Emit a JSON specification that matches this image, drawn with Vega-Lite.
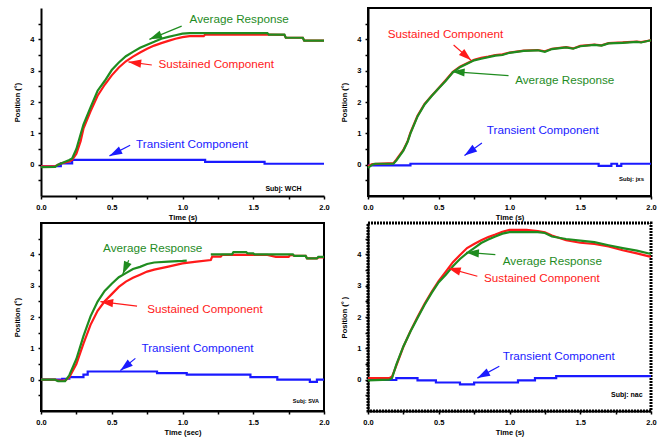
{
"$schema":"https://vega.github.io/schema/vega-lite/v6.json",
"padding":{"left":12,"top":7,"right":0,"bottom":0},
"columns":2,
"spacing":{"row":27,"column":44},
"bounds":"flush",
"datasets":{
"lines":[
{"p":1,"s":"Transient Component","t":0,"v":-0.05},{"p":1,"s":"Transient Component","t":0.14,"v":0.04},{"p":1,"s":"Transient Component","t":0.22,"v":0.15},{"p":1,"s":"Transient Component","t":1.16,"v":0.09},{"p":1,"s":"Transient Component","t":1.58,"v":0.03},{"p":1,"s":"Transient Component","t":2.0,"v":0.03},
{"p":1,"s":"Sustained Component","t":0,"v":-0.05},{"p":1,"s":"Sustained Component","t":0.1,"v":-0.05},{"p":1,"s":"Sustained Component","t":0.12,"v":0.0},{"p":1,"s":"Sustained Component","t":0.15,"v":0.05},{"p":1,"s":"Sustained Component","t":0.2,"v":0.1},{"p":1,"s":"Sustained Component","t":0.22,"v":0.15},{"p":1,"s":"Sustained Component","t":0.25,"v":0.35},{"p":1,"s":"Sustained Component","t":0.28,"v":0.75},{"p":1,"s":"Sustained Component","t":0.3,"v":1.15},{"p":1,"s":"Sustained Component","t":0.35,"v":1.7},{"p":1,"s":"Sustained Component","t":0.4,"v":2.2},{"p":1,"s":"Sustained Component","t":0.45,"v":2.55},{"p":1,"s":"Sustained Component","t":0.5,"v":2.85},{"p":1,"s":"Sustained Component","t":0.55,"v":3.1},{"p":1,"s":"Sustained Component","t":0.6,"v":3.3},{"p":1,"s":"Sustained Component","t":0.65,"v":3.45},{"p":1,"s":"Sustained Component","t":0.7,"v":3.58},{"p":1,"s":"Sustained Component","t":0.75,"v":3.7},{"p":1,"s":"Sustained Component","t":0.8,"v":3.8},{"p":1,"s":"Sustained Component","t":0.85,"v":3.88},{"p":1,"s":"Sustained Component","t":0.9,"v":3.95},{"p":1,"s":"Sustained Component","t":0.95,"v":4.02},{"p":1,"s":"Sustained Component","t":1.0,"v":4.07},{"p":1,"s":"Sustained Component","t":1.05,"v":4.1},{"p":1,"s":"Sustained Component","t":1.15,"v":4.1},{"p":1,"s":"Sustained Component","t":1.16,"v":4.15},{"p":1,"s":"Sustained Component","t":1.6,"v":4.15},{"p":1,"s":"Sustained Component","t":1.72,"v":4.14},{"p":1,"s":"Sustained Component","t":1.73,"v":4.05},{"p":1,"s":"Sustained Component","t":1.85,"v":4.05},{"p":1,"s":"Sustained Component","t":1.86,"v":3.96},{"p":1,"s":"Sustained Component","t":2.0,"v":3.96},
{"p":1,"s":"Average Response","t":0,"v":-0.08},{"p":1,"s":"Average Response","t":0.1,"v":-0.07},{"p":1,"s":"Average Response","t":0.12,"v":0.0},{"p":1,"s":"Average Response","t":0.15,"v":0.05},{"p":1,"s":"Average Response","t":0.2,"v":0.15},{"p":1,"s":"Average Response","t":0.22,"v":0.2},{"p":1,"s":"Average Response","t":0.25,"v":0.5},{"p":1,"s":"Average Response","t":0.28,"v":0.97},{"p":1,"s":"Average Response","t":0.3,"v":1.28},{"p":1,"s":"Average Response","t":0.35,"v":1.83},{"p":1,"s":"Average Response","t":0.4,"v":2.36},{"p":1,"s":"Average Response","t":0.45,"v":2.67},{"p":1,"s":"Average Response","t":0.5,"v":3.02},{"p":1,"s":"Average Response","t":0.55,"v":3.26},{"p":1,"s":"Average Response","t":0.6,"v":3.46},{"p":1,"s":"Average Response","t":0.65,"v":3.6},{"p":1,"s":"Average Response","t":0.7,"v":3.73},{"p":1,"s":"Average Response","t":0.75,"v":3.83},{"p":1,"s":"Average Response","t":0.8,"v":3.92},{"p":1,"s":"Average Response","t":0.85,"v":4.02},{"p":1,"s":"Average Response","t":0.9,"v":4.08},{"p":1,"s":"Average Response","t":0.95,"v":4.13},{"p":1,"s":"Average Response","t":1.0,"v":4.18},{"p":1,"s":"Average Response","t":1.05,"v":4.2},{"p":1,"s":"Average Response","t":1.6,"v":4.2},{"p":1,"s":"Average Response","t":1.61,"v":4.15},{"p":1,"s":"Average Response","t":1.72,"v":4.15},{"p":1,"s":"Average Response","t":1.73,"v":4.05},{"p":1,"s":"Average Response","t":1.85,"v":4.05},{"p":1,"s":"Average Response","t":1.86,"v":3.96},{"p":1,"s":"Average Response","t":2.0,"v":3.96},

{"p":2,"s":"Transient Component","t":0,"v":-0.02},{"p":2,"s":"Transient Component","t":0.3,"v":0.03},{"p":2,"s":"Transient Component","t":1.63,"v":-0.04},{"p":2,"s":"Transient Component","t":1.72,"v":0.03},{"p":2,"s":"Transient Component","t":1.76,"v":-0.04},{"p":2,"s":"Transient Component","t":1.79,"v":0.03},{"p":2,"s":"Transient Component","t":2.0,"v":0.03},
{"p":2,"s":"Sustained Component","t":0,"v":-0.05},{"p":2,"s":"Sustained Component","t":0.03,"v":0.02},{"p":2,"s":"Sustained Component","t":0.18,"v":0.05},{"p":2,"s":"Sustained Component","t":0.2,"v":0.16},{"p":2,"s":"Sustained Component","t":0.25,"v":0.47},{"p":2,"s":"Sustained Component","t":0.28,"v":0.75},{"p":2,"s":"Sustained Component","t":0.3,"v":1.02},{"p":2,"s":"Sustained Component","t":0.35,"v":1.56},{"p":2,"s":"Sustained Component","t":0.4,"v":1.94},{"p":2,"s":"Sustained Component","t":0.45,"v":2.2},{"p":2,"s":"Sustained Component","t":0.5,"v":2.45},{"p":2,"s":"Sustained Component","t":0.55,"v":2.7},{"p":2,"s":"Sustained Component","t":0.6,"v":2.96},{"p":2,"s":"Sustained Component","t":0.65,"v":3.13},{"p":2,"s":"Sustained Component","t":0.7,"v":3.24},{"p":2,"s":"Sustained Component","t":0.75,"v":3.35},{"p":2,"s":"Sustained Component","t":0.8,"v":3.41},{"p":2,"s":"Sustained Component","t":0.85,"v":3.45},{"p":2,"s":"Sustained Component","t":0.9,"v":3.5},{"p":2,"s":"Sustained Component","t":0.95,"v":3.52},{"p":2,"s":"Sustained Component","t":1.0,"v":3.58},{"p":2,"s":"Sustained Component","t":1.05,"v":3.61},{"p":2,"s":"Sustained Component","t":1.1,"v":3.64},{"p":2,"s":"Sustained Component","t":1.2,"v":3.66},{"p":2,"s":"Sustained Component","t":1.25,"v":3.62},{"p":2,"s":"Sustained Component","t":1.3,"v":3.7},{"p":2,"s":"Sustained Component","t":1.4,"v":3.75},{"p":2,"s":"Sustained Component","t":1.45,"v":3.71},{"p":2,"s":"Sustained Component","t":1.5,"v":3.79},{"p":2,"s":"Sustained Component","t":1.6,"v":3.83},{"p":2,"s":"Sustained Component","t":1.65,"v":3.81},{"p":2,"s":"Sustained Component","t":1.7,"v":3.88},{"p":2,"s":"Sustained Component","t":1.8,"v":3.9},{"p":2,"s":"Sustained Component","t":1.9,"v":3.93},{"p":2,"s":"Sustained Component","t":1.93,"v":3.91},{"p":2,"s":"Sustained Component","t":2.0,"v":3.97},
{"p":2,"s":"Average Response","t":0,"v":-0.1},{"p":2,"s":"Average Response","t":0.03,"v":0.0},{"p":2,"s":"Average Response","t":0.05,"v":0.03},{"p":2,"s":"Average Response","t":0.18,"v":0.03},{"p":2,"s":"Average Response","t":0.2,"v":0.13},{"p":2,"s":"Average Response","t":0.25,"v":0.45},{"p":2,"s":"Average Response","t":0.28,"v":0.73},{"p":2,"s":"Average Response","t":0.3,"v":1.0},{"p":2,"s":"Average Response","t":0.35,"v":1.54},{"p":2,"s":"Average Response","t":0.4,"v":1.92},{"p":2,"s":"Average Response","t":0.45,"v":2.19},{"p":2,"s":"Average Response","t":0.5,"v":2.44},{"p":2,"s":"Average Response","t":0.55,"v":2.68},{"p":2,"s":"Average Response","t":0.6,"v":2.95},{"p":2,"s":"Average Response","t":0.65,"v":3.11},{"p":2,"s":"Average Response","t":0.7,"v":3.22},{"p":2,"s":"Average Response","t":0.75,"v":3.33},{"p":2,"s":"Average Response","t":0.8,"v":3.38},{"p":2,"s":"Average Response","t":0.85,"v":3.43},{"p":2,"s":"Average Response","t":0.9,"v":3.48},{"p":2,"s":"Average Response","t":0.95,"v":3.5},{"p":2,"s":"Average Response","t":1.0,"v":3.57},{"p":2,"s":"Average Response","t":1.05,"v":3.6},{"p":2,"s":"Average Response","t":1.1,"v":3.63},{"p":2,"s":"Average Response","t":1.2,"v":3.65},{"p":2,"s":"Average Response","t":1.25,"v":3.6},{"p":2,"s":"Average Response","t":1.3,"v":3.69},{"p":2,"s":"Average Response","t":1.4,"v":3.74},{"p":2,"s":"Average Response","t":1.45,"v":3.7},{"p":2,"s":"Average Response","t":1.5,"v":3.78},{"p":2,"s":"Average Response","t":1.6,"v":3.82},{"p":2,"s":"Average Response","t":1.65,"v":3.8},{"p":2,"s":"Average Response","t":1.7,"v":3.87},{"p":2,"s":"Average Response","t":1.8,"v":3.89},{"p":2,"s":"Average Response","t":1.9,"v":3.92},{"p":2,"s":"Average Response","t":1.93,"v":3.9},{"p":2,"s":"Average Response","t":2.0,"v":3.97},

{"p":3,"s":"Transient Component","t":0,"v":0.0},{"p":3,"s":"Transient Component","t":0.15,"v":0.03},{"p":3,"s":"Transient Component","t":0.2,"v":0.08},{"p":3,"s":"Transient Component","t":0.3,"v":0.16},{"p":3,"s":"Transient Component","t":0.33,"v":0.26},{"p":3,"s":"Transient Component","t":0.82,"v":0.21},{"p":3,"s":"Transient Component","t":1.03,"v":0.16},{"p":3,"s":"Transient Component","t":1.48,"v":0.08},{"p":3,"s":"Transient Component","t":1.67,"v":0.0},{"p":3,"s":"Transient Component","t":1.9,"v":-0.07},{"p":3,"s":"Transient Component","t":1.95,"v":0.0},{"p":3,"s":"Transient Component","t":2.0,"v":0.0},
{"p":3,"s":"Sustained Component","t":0,"v":0.0},{"p":3,"s":"Sustained Component","t":0.1,"v":0.0},{"p":3,"s":"Sustained Component","t":0.12,"v":-0.03},{"p":3,"s":"Sustained Component","t":0.17,"v":-0.03},{"p":3,"s":"Sustained Component","t":0.2,"v":0.08},{"p":3,"s":"Sustained Component","t":0.25,"v":0.5},{"p":3,"s":"Sustained Component","t":0.3,"v":1.15},{"p":3,"s":"Sustained Component","t":0.35,"v":1.75},{"p":3,"s":"Sustained Component","t":0.4,"v":2.2},{"p":3,"s":"Sustained Component","t":0.45,"v":2.5},{"p":3,"s":"Sustained Component","t":0.5,"v":2.73},{"p":3,"s":"Sustained Component","t":0.55,"v":2.96},{"p":3,"s":"Sustained Component","t":0.6,"v":3.13},{"p":3,"s":"Sustained Component","t":0.65,"v":3.25},{"p":3,"s":"Sustained Component","t":0.7,"v":3.35},{"p":3,"s":"Sustained Component","t":0.75,"v":3.45},{"p":3,"s":"Sustained Component","t":0.8,"v":3.51},{"p":3,"s":"Sustained Component","t":0.9,"v":3.61},{"p":3,"s":"Sustained Component","t":1.0,"v":3.71},{"p":3,"s":"Sustained Component","t":1.1,"v":3.77},{"p":3,"s":"Sustained Component","t":1.2,"v":3.82},{"p":3,"s":"Sustained Component","t":1.21,"v":3.93},{"p":3,"s":"Sustained Component","t":1.27,"v":3.93},{"p":3,"s":"Sustained Component","t":1.28,"v":3.98},{"p":3,"s":"Sustained Component","t":1.6,"v":3.98},{"p":3,"s":"Sustained Component","t":1.66,"v":3.92},{"p":3,"s":"Sustained Component","t":1.75,"v":3.92},{"p":3,"s":"Sustained Component","t":1.76,"v":3.97},{"p":3,"s":"Sustained Component","t":1.78,"v":3.97},{"p":3,"s":"Sustained Component","t":1.79,"v":3.95},{"p":3,"s":"Sustained Component","t":1.87,"v":3.95},{"p":3,"s":"Sustained Component","t":1.88,"v":3.87},{"p":3,"s":"Sustained Component","t":1.95,"v":3.87},{"p":3,"s":"Sustained Component","t":1.96,"v":3.9},{"p":3,"s":"Sustained Component","t":2.0,"v":3.9},
{"p":3,"s":"Average Response","t":0,"v":0.0},{"p":3,"s":"Average Response","t":0.1,"v":0.0},{"p":3,"s":"Average Response","t":0.12,"v":-0.05},{"p":3,"s":"Average Response","t":0.17,"v":-0.05},{"p":3,"s":"Average Response","t":0.2,"v":0.14},{"p":3,"s":"Average Response","t":0.25,"v":0.66},{"p":3,"s":"Average Response","t":0.3,"v":1.39},{"p":3,"s":"Average Response","t":0.35,"v":2.02},{"p":3,"s":"Average Response","t":0.4,"v":2.49},{"p":3,"s":"Average Response","t":0.45,"v":2.83},{"p":3,"s":"Average Response","t":0.5,"v":3.06},{"p":3,"s":"Average Response","t":0.55,"v":3.27},{"p":3,"s":"Average Response","t":0.6,"v":3.4},{"p":3,"s":"Average Response","t":0.65,"v":3.53},{"p":3,"s":"Average Response","t":0.7,"v":3.6},{"p":3,"s":"Average Response","t":0.75,"v":3.69},{"p":3,"s":"Average Response","t":0.8,"v":3.74},{"p":3,"s":"Average Response","t":0.9,"v":3.77},{"p":3,"s":"Average Response","t":1.0,"v":3.79},{"p":3,"s":"Average Response","t":1.03,"v":3.8},{"p":3,"s":"Average Response","t":1.1,"v":null},{"p":3,"s":"Average Response","t":1.2,"v":4.0},{"p":3,"s":"Average Response","t":1.35,"v":4.0},{"p":3,"s":"Average Response","t":1.36,"v":4.07},{"p":3,"s":"Average Response","t":1.45,"v":4.07},{"p":3,"s":"Average Response","t":1.46,"v":4.03},{"p":3,"s":"Average Response","t":1.5,"v":4.03},{"p":3,"s":"Average Response","t":1.51,"v":4.0},{"p":3,"s":"Average Response","t":1.78,"v":4.0},{"p":3,"s":"Average Response","t":1.79,"v":3.95},{"p":3,"s":"Average Response","t":1.87,"v":3.95},{"p":3,"s":"Average Response","t":1.88,"v":3.87},{"p":3,"s":"Average Response","t":1.95,"v":3.87},{"p":3,"s":"Average Response","t":1.96,"v":3.92},{"p":3,"s":"Average Response","t":2.0,"v":3.92},

{"p":4,"s":"Transient Component","t":0,"v":0.0},{"p":4,"s":"Transient Component","t":0.1,"v":-0.01},{"p":4,"s":"Transient Component","t":0.2,"v":0.05},{"p":4,"s":"Transient Component","t":0.35,"v":-0.02},{"p":4,"s":"Transient Component","t":0.48,"v":-0.09},{"p":4,"s":"Transient Component","t":0.65,"v":-0.15},{"p":4,"s":"Transient Component","t":0.75,"v":-0.09},{"p":4,"s":"Transient Component","t":1.06,"v":-0.02},{"p":4,"s":"Transient Component","t":1.18,"v":0.05},{"p":4,"s":"Transient Component","t":1.33,"v":0.11},{"p":4,"s":"Transient Component","t":2.0,"v":0.11},
{"p":4,"s":"Sustained Component","t":0,"v":0.05},{"p":4,"s":"Sustained Component","t":0.15,"v":0.05},{"p":4,"s":"Sustained Component","t":0.17,"v":0.1},{"p":4,"s":"Sustained Component","t":0.2,"v":0.45},{"p":4,"s":"Sustained Component","t":0.25,"v":1.05},{"p":4,"s":"Sustained Component","t":0.3,"v":1.55},{"p":4,"s":"Sustained Component","t":0.35,"v":2.0},{"p":4,"s":"Sustained Component","t":0.4,"v":2.42},{"p":4,"s":"Sustained Component","t":0.45,"v":2.8},{"p":4,"s":"Sustained Component","t":0.5,"v":3.15},{"p":4,"s":"Sustained Component","t":0.55,"v":3.45},{"p":4,"s":"Sustained Component","t":0.6,"v":3.75},{"p":4,"s":"Sustained Component","t":0.65,"v":3.98},{"p":4,"s":"Sustained Component","t":0.7,"v":4.2},{"p":4,"s":"Sustained Component","t":0.75,"v":4.33},{"p":4,"s":"Sustained Component","t":0.8,"v":4.45},{"p":4,"s":"Sustained Component","t":0.85,"v":4.55},{"p":4,"s":"Sustained Component","t":0.9,"v":4.63},{"p":4,"s":"Sustained Component","t":0.95,"v":4.72},{"p":4,"s":"Sustained Component","t":1.0,"v":4.78},{"p":4,"s":"Sustained Component","t":1.12,"v":4.78},{"p":4,"s":"Sustained Component","t":1.2,"v":4.74},{"p":4,"s":"Sustained Component","t":1.25,"v":4.7},{"p":4,"s":"Sustained Component","t":1.3,"v":4.6},{"p":4,"s":"Sustained Component","t":1.4,"v":4.45},{"p":4,"s":"Sustained Component","t":1.5,"v":4.37},{"p":4,"s":"Sustained Component","t":1.6,"v":4.33},{"p":4,"s":"Sustained Component","t":1.7,"v":4.25},{"p":4,"s":"Sustained Component","t":1.8,"v":4.13},{"p":4,"s":"Sustained Component","t":1.9,"v":4.03},{"p":4,"s":"Sustained Component","t":2.0,"v":3.92},
{"p":4,"s":"Average Response","t":0,"v":-0.02},{"p":4,"s":"Average Response","t":0.15,"v":0.0},{"p":4,"s":"Average Response","t":0.17,"v":0.05},{"p":4,"s":"Average Response","t":0.2,"v":0.48},{"p":4,"s":"Average Response","t":0.25,"v":1.06},{"p":4,"s":"Average Response","t":0.3,"v":1.54},{"p":4,"s":"Average Response","t":0.35,"v":1.97},{"p":4,"s":"Average Response","t":0.4,"v":2.39},{"p":4,"s":"Average Response","t":0.45,"v":2.77},{"p":4,"s":"Average Response","t":0.5,"v":3.11},{"p":4,"s":"Average Response","t":0.55,"v":3.35},{"p":4,"s":"Average Response","t":0.6,"v":3.62},{"p":4,"s":"Average Response","t":0.65,"v":3.85},{"p":4,"s":"Average Response","t":0.7,"v":4.04},{"p":4,"s":"Average Response","t":0.75,"v":4.2},{"p":4,"s":"Average Response","t":0.8,"v":4.36},{"p":4,"s":"Average Response","t":0.85,"v":4.47},{"p":4,"s":"Average Response","t":0.9,"v":4.57},{"p":4,"s":"Average Response","t":0.95,"v":4.66},{"p":4,"s":"Average Response","t":1.0,"v":4.71},{"p":4,"s":"Average Response","t":1.2,"v":4.71},{"p":4,"s":"Average Response","t":1.25,"v":4.68},{"p":4,"s":"Average Response","t":1.3,"v":4.57},{"p":4,"s":"Average Response","t":1.35,"v":4.53},{"p":4,"s":"Average Response","t":1.4,"v":4.49},{"p":4,"s":"Average Response","t":1.5,"v":4.44},{"p":4,"s":"Average Response","t":1.6,"v":4.39},{"p":4,"s":"Average Response","t":1.7,"v":4.29},{"p":4,"s":"Average Response","t":1.8,"v":4.2},{"p":4,"s":"Average Response","t":1.9,"v":4.12},{"p":4,"s":"Average Response","t":2.0,"v":4.01}
],
"notes":[
{"p":1,"s":"Average Response","t":1.05,"v":4.65},{"p":1,"s":"Sustained Component","t":0.83,"v":3.21},{"p":1,"s":"Transient Component","t":0.672,"v":0.65},
{"p":2,"s":"Sustained Component","t":0.139,"v":4.16},{"p":2,"s":"Average Response","t":1.04,"v":2.71},{"p":2,"s":"Transient Component","t":0.84,"v":1.1},
{"p":3,"s":"Average Response","t":0.439,"v":4.21},{"p":3,"s":"Sustained Component","t":0.75,"v":2.25},{"p":3,"s":"Transient Component","t":0.71,"v":1.02},
{"p":4,"s":"Average Response","t":0.952,"v":3.8},{"p":4,"s":"Sustained Component","t":0.82,"v":3.24},{"p":4,"s":"Transient Component","t":0.952,"v":0.74}
],
"arrows":[
{"p":1,"s":"Average Response","t":0.994,"v":4.42,"t2":0.766,"v2":4.0},{"p":1,"s":"Sustained Component","t":0.783,"v":3.18,"t2":0.618,"v2":3.28},{"p":1,"s":"Transient Component","t":0.63,"v":0.62,"t2":0.484,"v2":0.28},
{"p":2,"s":"Sustained Component","t":0.605,"v":3.82,"t2":0.729,"v2":3.33},{"p":2,"s":"Average Response","t":0.993,"v":2.84,"t2":0.593,"v2":2.97},{"p":2,"s":"Transient Component","t":0.805,"v":0.69,"t2":0.682,"v2":0.29},
{"p":3,"s":"Average Response","t":0.62,"v":3.81,"t2":0.578,"v2":3.37},{"p":3,"s":"Sustained Component","t":0.679,"v":2.35,"t2":0.42,"v2":2.49},{"p":3,"s":"Transient Component","t":0.667,"v":0.68,"t2":0.561,"v2":0.29},
{"p":4,"s":"Average Response","t":0.9,"v":3.99,"t2":0.694,"v2":4.06},{"p":4,"s":"Sustained Component","t":0.773,"v":3.3,"t2":0.565,"v2":3.56},{"p":4,"s":"Transient Component","t":0.928,"v":0.43,"t2":0.773,"v2":0.05}
],
"subj":[
{"p":1,"label":"Subj: WCH","t":1.586,"v":-0.77},{"p":2,"label":"Subj: jxs","t":1.774,"v":-0.47},{"p":3,"label":"Subj: SVA","t":1.78,"v":-0.68},{"p":4,"label":"Subj: nac","t":1.718,"v":-0.5}
]
},
"concat":[
{"width":283,"height":188,"view":{"stroke":null},
"layer":[
{"data":{"name":"lines"},"transform":[{"filter":"datum.p==1 && datum.s=='Transient Component'"}],"mark":{"type":"line","interpolate":"step-after","strokeWidth":2.2},
"encoding":{"x":{"field":"t","type":"quantitative","scale":{"domain":[0,2],"nice":false},"axis":{"title":"Time (s)","values":[0,0.25,0.5,0.75,1,1.25,1.5,1.75,2],"tickCount":20,"labelExpr":"datum.value % 0.5 == 0 ? format(datum.value, '.1f') : ''","labelFlush":false,"labelOverlap":false}},
"y":{"field":"v","type":"quantitative","scale":{"domain":[-1,5],"nice":false,"zero":false},"axis":{"title":"Position (°)","values":[-0.5,0,0.5,1,1.5,2,2.5,3,3.5,4,4.5],"tickCount":20,"labelExpr":"datum.value % 1 == 0 ? format(datum.value, 'd') : ''","labelOverlap":false}},
"color":{"field":"s","type":"nominal","scale":{"domain":["Average Response","Sustained Component","Transient Component"],"range":["#1f8c1f","#ff1a1a","#1a1aff"]},"legend":null}}},
{"data":{"name":"lines"},"transform":[{"filter":"datum.p==1 && datum.s=='Sustained Component'"}],"mark":{"type":"line","strokeWidth":2.2},"encoding":{"x":{"field":"t","type":"quantitative"},"y":{"field":"v","type":"quantitative"},"color":{"field":"s","type":"nominal"}}},
{"data":{"name":"lines"},"transform":[{"filter":"datum.p==1 && datum.s=='Average Response'"}],"mark":{"type":"line","strokeWidth":2.2},"encoding":{"x":{"field":"t","type":"quantitative"},"y":{"field":"v","type":"quantitative"},"color":{"field":"s","type":"nominal"}}},
{"data":{"name":"arrows"},"transform":[{"filter":"datum.p==1"}],"mark":{"type":"rule","strokeWidth":1.2},"encoding":{"x":{"field":"t","type":"quantitative"},"y":{"field":"v","type":"quantitative"},"x2":{"field":"t2"},"y2":{"field":"v2"},"color":{"field":"s","type":"nominal"}}},
{"data":{"name":"arrows"},"transform":[{"filter":"datum.p==1"},{"calculate":"atan2((datum.t2-datum.t)*141.5,(datum.v2-datum.v)*31.33)*180/PI","as":"ang"}],"mark":{"type":"point","shape":"M0,0L-0.45,1.4L0.45,1.4Z","filled":true,"opacity":1,"size":330},"encoding":{"x":{"field":"t2","type":"quantitative"},"y":{"field":"v2","type":"quantitative"},"angle":{"field":"ang","type":"quantitative","scale":null},"color":{"field":"s","type":"nominal"}}},
{"data":{"name":"notes"},"transform":[{"filter":"datum.p==1"}],"mark":{"type":"text","align":"left","baseline":"middle","fontSize":11.7,"font":"Liberation Sans"},"encoding":{"x":{"field":"t","type":"quantitative"},"y":{"field":"v","type":"quantitative"},"text":{"field":"s"},"color":{"field":"s","type":"nominal"}}},
{"data":{"name":"subj"},"transform":[{"filter":"datum.p==1"}],"mark":{"type":"text","align":"left","baseline":"middle","fontSize":7,"fontWeight":"bold","font":"Liberation Sans","color":"black"},"encoding":{"x":{"field":"t","type":"quantitative"},"y":{"field":"v","type":"quantitative"},"text":{"field":"label"}}},
{"mark":{"type":"rule","color":"black","strokeWidth":1},"encoding":{"x":{"datum":2}}}
]},
{"width":283,"height":188,"view":{"stroke":"black","strokeWidth":2},
"layer":[
{"data":{"name":"lines"},"transform":[{"filter":"datum.p==2 && datum.s=='Transient Component'"}],"mark":{"type":"line","interpolate":"step-after","strokeWidth":2.2},
"encoding":{"x":{"field":"t","type":"quantitative","scale":{"domain":[0,2],"nice":false},"axis":{"title":"Time (s)","values":[0,0.25,0.5,0.75,1,1.25,1.5,1.75,2],"tickCount":20,"labelExpr":"datum.value % 0.5 == 0 ? format(datum.value, '.1f') : ''","labelFlush":false,"labelOverlap":false}},
"y":{"field":"v","type":"quantitative","scale":{"domain":[-1,5],"nice":false,"zero":false},"axis":{"title":"Position (°)","values":[-0.5,0,0.5,1,1.5,2,2.5,3,3.5,4,4.5],"tickCount":20,"labelExpr":"datum.value % 1 == 0 ? format(datum.value, 'd') : ''","labelOverlap":false}},
"color":{"field":"s","type":"nominal","scale":{"domain":["Average Response","Sustained Component","Transient Component"],"range":["#1f8c1f","#ff1a1a","#1a1aff"]},"legend":null}}},
{"data":{"name":"lines"},"transform":[{"filter":"datum.p==2 && datum.s=='Sustained Component'"}],"mark":{"type":"line","strokeWidth":2.2},"encoding":{"x":{"field":"t","type":"quantitative"},"y":{"field":"v","type":"quantitative"},"color":{"field":"s","type":"nominal"}}},
{"data":{"name":"lines"},"transform":[{"filter":"datum.p==2 && datum.s=='Average Response'"}],"mark":{"type":"line","strokeWidth":2.2},"encoding":{"x":{"field":"t","type":"quantitative"},"y":{"field":"v","type":"quantitative"},"color":{"field":"s","type":"nominal"}}},
{"data":{"name":"arrows"},"transform":[{"filter":"datum.p==2"}],"mark":{"type":"rule","strokeWidth":1.2},"encoding":{"x":{"field":"t","type":"quantitative"},"y":{"field":"v","type":"quantitative"},"x2":{"field":"t2"},"y2":{"field":"v2"},"color":{"field":"s","type":"nominal"}}},
{"data":{"name":"arrows"},"transform":[{"filter":"datum.p==2"},{"calculate":"atan2((datum.t2-datum.t)*141.5,(datum.v2-datum.v)*31.33)*180/PI","as":"ang"}],"mark":{"type":"point","shape":"M0,0L-0.45,1.4L0.45,1.4Z","filled":true,"opacity":1,"size":330},"encoding":{"x":{"field":"t2","type":"quantitative"},"y":{"field":"v2","type":"quantitative"},"angle":{"field":"ang","type":"quantitative","scale":null},"color":{"field":"s","type":"nominal"}}},
{"data":{"name":"notes"},"transform":[{"filter":"datum.p==2"}],"mark":{"type":"text","align":"left","baseline":"middle","fontSize":11.7,"font":"Liberation Sans"},"encoding":{"x":{"field":"t","type":"quantitative"},"y":{"field":"v","type":"quantitative"},"text":{"field":"s"},"color":{"field":"s","type":"nominal"}}},
{"data":{"name":"subj"},"transform":[{"filter":"datum.p==2"}],"mark":{"type":"text","align":"left","baseline":"middle","fontSize":6,"fontWeight":"bold","font":"Liberation Sans","color":"black"},"encoding":{"x":{"field":"t","type":"quantitative"},"y":{"field":"v","type":"quantitative"},"text":{"field":"label"}}}
]},
{"width":283,"height":188,"view":{"stroke":"black","strokeWidth":2},
"layer":[
{"data":{"name":"lines"},"transform":[{"filter":"datum.p==3 && datum.s=='Transient Component'"}],"mark":{"type":"line","interpolate":"step-after","strokeWidth":2.2},
"encoding":{"x":{"field":"t","type":"quantitative","scale":{"domain":[0,2],"nice":false},"axis":{"title":"Time (sec)","values":[0,0.25,0.5,0.75,1,1.25,1.5,1.75,2],"tickCount":20,"labelExpr":"datum.value % 0.5 == 0 ? format(datum.value, '.1f') : ''","labelFlush":false,"labelOverlap":false}},
"y":{"field":"v","type":"quantitative","scale":{"domain":[-1,5],"nice":false,"zero":false},"axis":{"title":"Position (°)","values":[-0.5,0,0.5,1,1.5,2,2.5,3,3.5,4,4.5],"tickCount":20,"labelExpr":"datum.value % 1 == 0 ? format(datum.value, 'd') : ''","labelOverlap":false}},
"color":{"field":"s","type":"nominal","scale":{"domain":["Average Response","Sustained Component","Transient Component"],"range":["#1f8c1f","#ff1a1a","#1a1aff"]},"legend":null}}},
{"data":{"name":"lines"},"transform":[{"filter":"datum.p==3 && datum.s=='Sustained Component'"}],"mark":{"type":"line","strokeWidth":2.2},"encoding":{"x":{"field":"t","type":"quantitative"},"y":{"field":"v","type":"quantitative"},"color":{"field":"s","type":"nominal"}}},
{"data":{"name":"lines"},"transform":[{"filter":"datum.p==3 && datum.s=='Average Response'"}],"mark":{"type":"line","strokeWidth":2.2,"invalid":"break-paths-filter-domains"},"encoding":{"x":{"field":"t","type":"quantitative"},"y":{"field":"v","type":"quantitative"},"color":{"field":"s","type":"nominal"}}},
{"data":{"name":"arrows"},"transform":[{"filter":"datum.p==3"}],"mark":{"type":"rule","strokeWidth":1.2},"encoding":{"x":{"field":"t","type":"quantitative"},"y":{"field":"v","type":"quantitative"},"x2":{"field":"t2"},"y2":{"field":"v2"},"color":{"field":"s","type":"nominal"}}},
{"data":{"name":"arrows"},"transform":[{"filter":"datum.p==3"},{"calculate":"atan2((datum.t2-datum.t)*141.5,(datum.v2-datum.v)*31.33)*180/PI","as":"ang"}],"mark":{"type":"point","shape":"M0,0L-0.45,1.4L0.45,1.4Z","filled":true,"opacity":1,"size":330},"encoding":{"x":{"field":"t2","type":"quantitative"},"y":{"field":"v2","type":"quantitative"},"angle":{"field":"ang","type":"quantitative","scale":null},"color":{"field":"s","type":"nominal"}}},
{"data":{"name":"notes"},"transform":[{"filter":"datum.p==3"}],"mark":{"type":"text","align":"left","baseline":"middle","fontSize":11.7,"font":"Liberation Sans"},"encoding":{"x":{"field":"t","type":"quantitative"},"y":{"field":"v","type":"quantitative"},"text":{"field":"s"},"color":{"field":"s","type":"nominal"}}},
{"data":{"name":"subj"},"transform":[{"filter":"datum.p==3"}],"mark":{"type":"text","align":"left","baseline":"middle","fontSize":5.5,"fontWeight":"bold","font":"Liberation Sans","color":"black"},"encoding":{"x":{"field":"t","type":"quantitative"},"y":{"field":"v","type":"quantitative"},"text":{"field":"label"}}}
]},
{"width":283,"height":188,"view":{"stroke":"black","strokeWidth":3,"strokeDash":[2,1]},
"layer":[
{"data":{"name":"lines"},"transform":[{"filter":"datum.p==4 && datum.s=='Transient Component'"}],"mark":{"type":"line","interpolate":"step-after","strokeWidth":2.2},
"encoding":{"x":{"field":"t","type":"quantitative","scale":{"domain":[0,2],"nice":false},"axis":{"title":"Time (s)","values":[0,0.25,0.5,0.75,1,1.25,1.5,1.75,2],"tickCount":20,"labelExpr":"datum.value % 0.5 == 0 ? format(datum.value, '.1f') : ''","labelFlush":false,"labelOverlap":false}},
"y":{"field":"v","type":"quantitative","scale":{"domain":[-1,5],"nice":false,"zero":false},"axis":{"title":"Position (° )","values":[-0.5,0,0.5,1,1.5,2,2.5,3,3.5,4,4.5],"tickCount":20,"labelExpr":"datum.value % 1 == 0 ? format(datum.value, 'd') : ''","labelOverlap":false}},
"color":{"field":"s","type":"nominal","scale":{"domain":["Average Response","Sustained Component","Transient Component"],"range":["#1f8c1f","#ff1a1a","#1a1aff"]},"legend":null}}},
{"data":{"name":"lines"},"transform":[{"filter":"datum.p==4 && datum.s=='Sustained Component'"}],"mark":{"type":"line","strokeWidth":2.2},"encoding":{"x":{"field":"t","type":"quantitative"},"y":{"field":"v","type":"quantitative"},"color":{"field":"s","type":"nominal"}}},
{"data":{"name":"lines"},"transform":[{"filter":"datum.p==4 && datum.s=='Average Response'"}],"mark":{"type":"line","strokeWidth":2.2},"encoding":{"x":{"field":"t","type":"quantitative"},"y":{"field":"v","type":"quantitative"},"color":{"field":"s","type":"nominal"}}},
{"data":{"name":"arrows"},"transform":[{"filter":"datum.p==4"}],"mark":{"type":"rule","strokeWidth":1.2},"encoding":{"x":{"field":"t","type":"quantitative"},"y":{"field":"v","type":"quantitative"},"x2":{"field":"t2"},"y2":{"field":"v2"},"color":{"field":"s","type":"nominal"}}},
{"data":{"name":"arrows"},"transform":[{"filter":"datum.p==4"},{"calculate":"atan2((datum.t2-datum.t)*141.5,(datum.v2-datum.v)*31.33)*180/PI","as":"ang"}],"mark":{"type":"point","shape":"M0,0L-0.45,1.4L0.45,1.4Z","filled":true,"opacity":1,"size":330},"encoding":{"x":{"field":"t2","type":"quantitative"},"y":{"field":"v2","type":"quantitative"},"angle":{"field":"ang","type":"quantitative","scale":null},"color":{"field":"s","type":"nominal"}}},
{"data":{"name":"notes"},"transform":[{"filter":"datum.p==4"}],"mark":{"type":"text","align":"left","baseline":"middle","fontSize":11.7,"font":"Liberation Sans"},"encoding":{"x":{"field":"t","type":"quantitative"},"y":{"field":"v","type":"quantitative"},"text":{"field":"s"},"color":{"field":"s","type":"nominal"}}},
{"data":{"name":"subj"},"transform":[{"filter":"datum.p==4"}],"mark":{"type":"text","align":"left","baseline":"middle","fontSize":7,"fontWeight":"bold","font":"Liberation Sans","color":"black"},"encoding":{"x":{"field":"t","type":"quantitative"},"y":{"field":"v","type":"quantitative"},"text":{"field":"label"}}}
]}
],
"config":{
"view":{"stroke":null},
"font":"Liberation Sans",
"axis":{"domainColor":"black","domainWidth":2,"tickColor":"black","tickWidth":1.5,"tickSize":3,"labelFont":"Liberation Sans","labelFontWeight":"bold","labelFontSize":7.5,"labelColor":"black","titleFont":"Liberation Sans","titleFontWeight":"bold","titleFontSize":7.5,"titleColor":"black","grid":false,"labelPadding":4},
"axisX":{"titlePadding":3},
"axisY":{"titlePadding":8}
}
}
